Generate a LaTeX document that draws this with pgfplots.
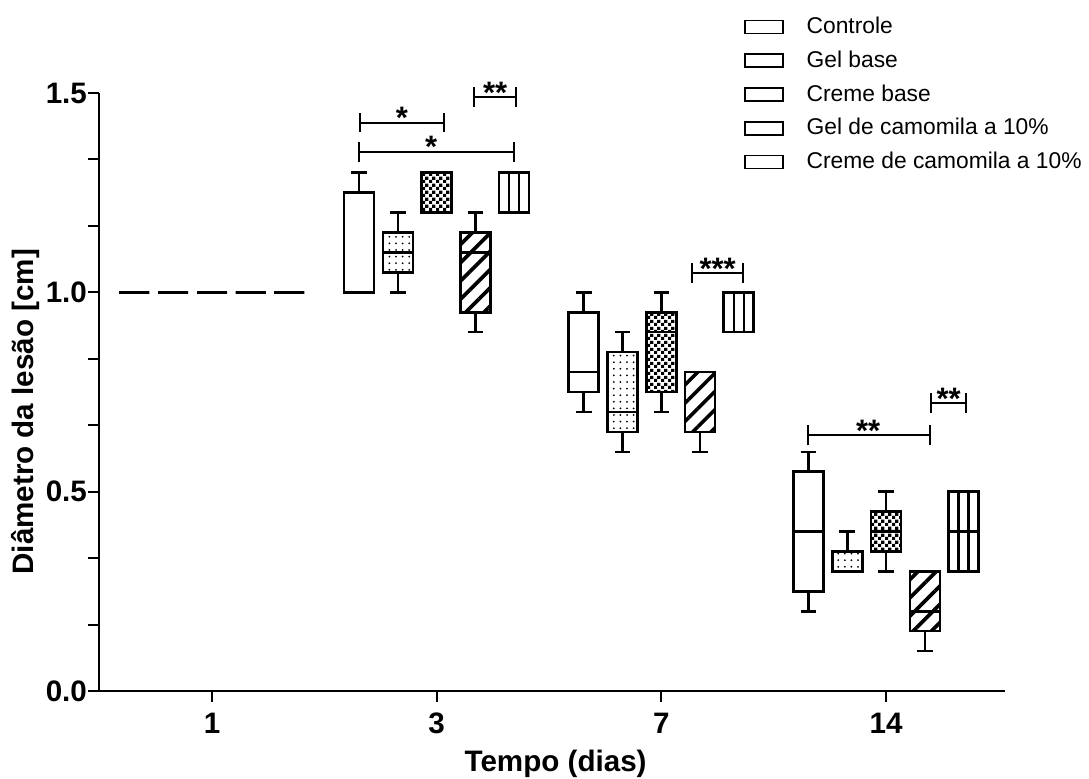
\documentclass[border=0pt]{standalone}
\usepackage{fontspec}
\setmainfont{Liberation Sans}
\usepackage{pgfplots}
\pgfplotsset{compat=1.18}
\usepgfplotslibrary{statistics}
\usetikzlibrary{patterns,patterns.meta}

\pgfdeclarepatternformonly{smallcheck}{\pgfqpoint{0pt}{0pt}}{\pgfqpoint{3.3pt}{3.3pt}}{\pgfqpoint{3.3pt}{3.3pt}}{%
 \pgfpathrectangle{\pgfqpoint{0pt}{0pt}}{\pgfqpoint{1.65pt}{1.65pt}}%
 \pgfpathrectangle{\pgfqpoint{1.65pt}{1.65pt}}{\pgfqpoint{1.65pt}{1.65pt}}%
 \pgfusepath{fill}}
\pgfdeclarepatternformonly{sparsedots}{\pgfqpoint{-1pt}{-1pt}}{\pgfqpoint{1pt}{1pt}}{\pgfqpoint{3.3pt}{3.3pt}}{%
 \pgfpathcircle{\pgfqpoint{0pt}{0pt}}{0.5pt}\pgfusepath{fill}}

% box: position, lower whisker, lower quartile, median, upper quartile, upper whisker, box style
\newcommand{\bx}[7]{\addplot[black, line width=1.25pt, solid, boxplot prepared={draw direction=y, draw position=#1, lower whisker=#2, lower quartile=#3, median=#4, upper quartile=#5, upper whisker=#6, box extend=0.1335, whisker extend=0.07, every box/.style={#7}}] coordinates {};}
% bracket: x1, x2, y, ylo, yhi, xmid, ystar, label
\newcommand{\sig}[8]{%
 \addplot[black, line width=1pt] coordinates {(#1,#3) (#2,#3)};
 \addplot[black, line width=1pt] coordinates {(#1,#4) (#1,#5)};
 \addplot[black, line width=1pt] coordinates {(#2,#4) (#2,#5)};
 \node[font=\fontsize{15.5}{17}\selectfont\bfseries, anchor=base, inner sep=0pt] at (axis cs:#6,#7) {#8};
}
\newcommand{\vl}[3]{\addplot[black, line width=1.1pt] coordinates {(#1,#2) (#1,#3)};}

\begin{document}
\begin{tikzpicture}
\useasboundingbox (-49.5pt,-43.5pt) rectangle (495pt,345.5pt);
\begin{axis}[
 at={(0pt,0pt)}, anchor=south west,
 scale only axis, width=453pt, height=299pt,
 xmin=-0.503, xmax=3.529, ymin=0, ymax=1.5,
 axis x line*=bottom, axis y line*=left,
 axis line style={line width=1pt, -},
 tick align=outside,
 major tick length=5.5pt, minor tick length=5.5pt,
 tick style={black, line width=1pt},
 xtick={0,1,2,3}, xticklabels={1,3,7,14},
 ytick={0,0.5,1,1.5}, minor y tick num=2,
 ticklabel style={font=\fontsize{14.8}{17}\selectfont\bfseries},
 xticklabel style={yshift=-2pt},
 yticklabel style={xshift=3pt, /pgf/number format/.cd, fixed, fixed zerofill, precision=1, assume math mode=true},
 xlabel={Tempo (dias)}, ylabel={Diâmetro da lesão [cm]},
 label style={font=\fontsize{14.8}{17}\selectfont\bfseries},
 xlabel style={at={(axis description cs:0.504,-0.122)}, anchor=center},
 ylabel style={at={(axis description cs:-0.081,0.467)}, anchor=center},
 clip=false,
 legend cell align=left,
 legend style={at={(axis description cs:0.712,1.128)}, anchor=north west, draw=none, fill=none,
   inner sep=0pt, outer sep=0pt, font=\fontsize{11.4}{13}\selectfont, row sep=6.4pt,
   nodes={inner sep=0pt, text height=8.5pt, text depth=2pt},
   /tikz/every odd column/.append style={column sep=11.5pt}},
 legend image code/.code={\draw[line width=0.8pt] (0pt,-3.25pt) rectangle (19pt,3.25pt);},
]
\addlegendimage{black}\addlegendentry{Controle}
\addlegendimage{black}\addlegendentry{Gel base}
\addlegendimage{black}\addlegendentry{Creme base}
\addlegendimage{black}\addlegendentry{Gel de camomila a 10\%}
\addlegendimage{black}\addlegendentry{Creme de camomila a 10\%}

% Day 1
\bx{-0.346}{1.0}{1.0}{1.0}{1.0}{1.0}{fill=white}
\bx{-0.173}{1.0}{1.0}{1.0}{1.0}{1.0}{fill=white}
\bx{0.0}{1.0}{1.0}{1.0}{1.0}{1.0}{fill=white}
\bx{0.172}{1.0}{1.0}{1.0}{1.0}{1.0}{fill=white}
\bx{0.344}{1.0}{1.0}{1.0}{1.0}{1.0}{fill=white}
% Day 3
\bx{0.654}{1.0}{1.0}{1.0}{1.25}{1.3}{fill=white}
\bx{0.827}{1.0}{1.05}{1.1}{1.15}{1.2}{pattern=sparsedots}
\bx{1.0}{1.2}{1.2}{1.2}{1.3}{1.3}{pattern=smallcheck}
\bx{1.172}{0.9}{0.95}{1.1}{1.15}{1.2}{pattern={Lines[angle=45,distance=6.45pt,line width=1.8pt]}}
\bx{1.344}{1.2}{1.2}{1.2}{1.3}{1.3}{fill=white}
\vl{1.3218}{1.2}{1.3}\vl{1.3663}{1.2}{1.3}
% Day 7
\bx{1.654}{0.7}{0.75}{0.8}{0.95}{1.0}{fill=white}
\bx{1.827}{0.6}{0.65}{0.7}{0.85}{0.9}{pattern=sparsedots}
\bx{2.0}{0.7}{0.75}{0.9}{0.95}{1.0}{pattern=smallcheck}
\bx{2.172}{0.6}{0.65}{0.8}{0.8}{0.8}{pattern={Lines[angle=45,distance=6.45pt,line width=1.8pt]}}
\bx{2.344}{0.9}{0.9}{0.9}{1.0}{1.0}{fill=white}
\vl{2.3218}{0.9}{1.0}\vl{2.3663}{0.9}{1.0}
% Day 14
\bx{2.654}{0.2}{0.25}{0.4}{0.55}{0.6}{fill=white}
\bx{2.827}{0.3}{0.3}{0.3}{0.35}{0.4}{pattern=sparsedots}
\bx{3.0}{0.3}{0.35}{0.4}{0.45}{0.5}{pattern=smallcheck}
\bx{3.172}{0.1}{0.15}{0.2}{0.3}{0.3}{pattern={Lines[angle=45,distance=6.45pt,line width=1.8pt]}}
\bx{3.344}{0.3}{0.3}{0.4}{0.5}{0.5}{fill=white}
\vl{3.3218}{0.3}{0.5}\vl{3.3663}{0.3}{0.5}

% significance brackets
\sig{0.659}{1.032}{1.426}{1.401}{1.451}{0.8455}{1.410}{*}
\sig{0.654}{1.344}{1.353}{1.328}{1.378}{0.975}{1.337}{*}
\sig{1.166}{1.353}{1.489}{1.464}{1.514}{1.26}{1.473}{**}
\sig{2.136}{2.363}{1.048}{1.023}{1.073}{2.25}{1.032}{***}
\sig{2.652}{3.195}{0.642}{0.617}{0.667}{2.92}{0.626}{**}
\sig{3.2}{3.356}{0.722}{0.697}{0.747}{3.278}{0.706}{**}
\end{axis}
\end{tikzpicture}
\end{document}
